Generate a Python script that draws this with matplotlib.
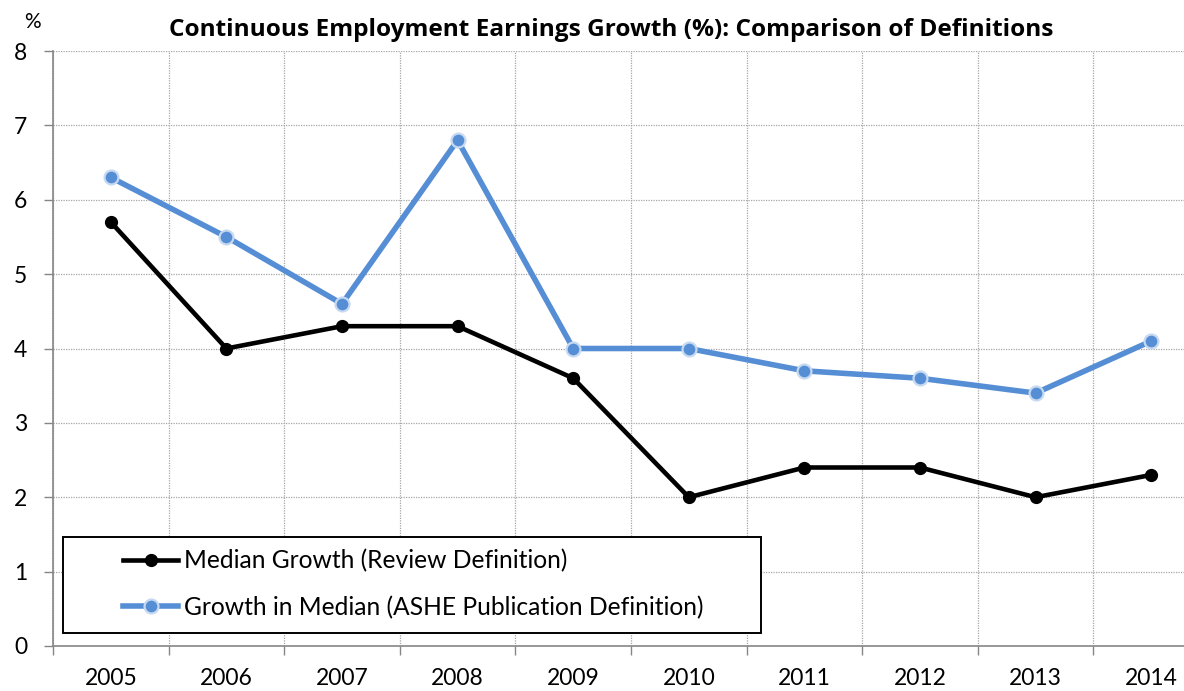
import numpy as np, matplotlib
matplotlib.use("Agg"); import matplotlib.pyplot as plt
from matplotlib.patches import Rectangle
plt.rcParams["font.family"]=["Lato","DejaVu Sans"]
BLUE="#558ED5"; HALO="#C6D9F1"; GRID="#A6A6A6"; AXC="#868686"
years=["2005","2006","2007","2008","2009","2010","2011","2012","2013","2014"]
review=[5.7,4.0,4.3,4.3,3.6,2.0,2.4,2.4,2.0,2.3]
ashe=[6.3,5.5,4.6,6.8,4.0,4.0,3.7,3.6,3.4,4.1]
W,H=1184,691
fig=plt.figure(figsize=(W/100,H/100),dpi=100)
ax=fig.add_axes([53/W,45/H,1156/W,595/H])
x=np.arange(len(years))
ax.plot(x,review,color="black",lw=3.3,marker="o",ms=8.5,mfc="black",mec="black",zorder=4,
        label="Median Growth (Review Definition)")
ax.plot(x,ashe,color=BLUE,lw=4,marker="o",ms=10,mfc=BLUE,mec=HALO,mew=1.6,zorder=3,
        label="Growth in Median (ASHE Publication Definition)")
ax.set_xlim(-0.5,len(years)-0.5); ax.set_ylim(0,8)
ax.set_xticks(x); ax.set_xticklabels(years)
ax.set_xticks(np.arange(-0.5,len(years)),minor=True)
ax.set_yticks(range(0,9))
ax.tick_params(axis="x",which="major",length=0,pad=16,labelsize=16.5)
ax.tick_params(axis="x",which="minor",length=6.5,color=AXC,width=1)
ax.tick_params(axis="y",length=6.5,color=AXC,width=1,pad=12,labelsize=16.5)
ax.grid(False)
ax.xaxis.grid(True,which="minor",color=GRID,ls=(0,(1,1)),lw=0.9)
ax.yaxis.grid(True,which="major",color=GRID,ls=(0,(1,1)),lw=0.9)
for s in ("top","right"): ax.spines[s].set_visible(False)
for s in ("left","bottom"): ax.spines[s].set_color(AXC); ax.spines[s].set_linewidth(1.2)
ax.set_axisbelow(True)
fig.text(611/W,1-30/H,"Continuous Employment Earnings Growth (%): Comparison of Definitions",
         ha="center",va="center",fontsize=17.6,fontweight="bold",family=["Open Sans","DejaVu Sans"])
fig.text(32/W,1-22/H,"%",ha="center",va="center",fontsize=15)
ax.add_patch(Rectangle((63/W,1-633/H),698/W,96/H,transform=fig.transFigure,fill=True,
                       fc="white",ec="black",lw=1.4,zorder=5,clip_on=False))
leg=ax.legend(loc="upper left",bbox_to_anchor=(123/W,1-549/H),bbox_transform=fig.transFigure,
              frameon=False,fontsize=17.7,handlelength=2.24,handletextpad=0.25,labelspacing=0.95,
              borderpad=0,borderaxespad=0)
leg.set_zorder(6)
fig.savefig("out.png",dpi=100)
